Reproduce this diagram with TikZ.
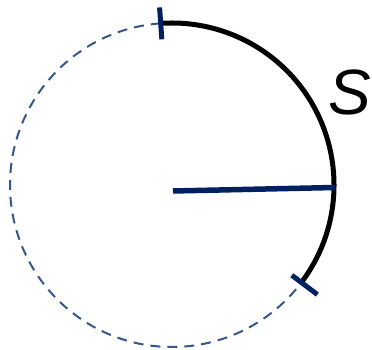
\documentclass[tikz,border=0pt]{standalone}
\usepackage{fontspec}
\setmainfont{Liberation Sans}
\usetikzlibrary{calc}

\definecolor{navy}{RGB}{0,32,96}
\definecolor{dashblue}{RGB}{52,88,140}

\begin{document}
\begin{tikzpicture}[x=1pt,y=1pt]

    \useasboundingbox (0,0) rectangle (372,350);

    % Define the points of the circle
    \coordinate (O) at (172,165);
    \coordinate (A) at ($(O)+(94:162)$);
    \coordinate (B) at ($(O)+(-37:162)$);
    \coordinate (P) at (173,159);
    \coordinate (R) at (335,162.5);

    % Draw the dashed part of the circle
    \draw [dashblue, line width=2pt, dash pattern=on 10pt off 7pt] (A) arc [start angle=94, end angle=323, radius=162];

    % Draw the arc s
    \draw [black, line width=5pt] (B) arc [start angle=-37, end angle=94, radius=162];

    % Draw the radius
    \draw [navy, line width=5.5pt] (P) -- (R);

    % Draw the marks at the ends of the arc
    \draw [navy, line width=5pt] ($(O)+(94:146)$) -- ($(O)+(94:178)$);
    \draw [navy, line width=5pt] ($(O)+(-37:150)$) -- ($(O)+(-37:182)$);

    % Place the label of the arc
    \node (s) at (350,258) [inner sep=0pt] {\fontsize{64}{68}\selectfont\itshape S};

\end{tikzpicture}
\end{document}
